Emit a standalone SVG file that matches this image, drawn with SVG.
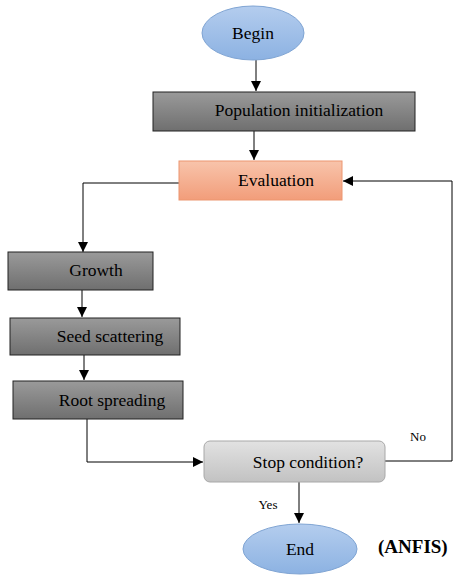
<svg xmlns="http://www.w3.org/2000/svg" width="455" height="575" viewBox="0 0 455 575" font-family="'Liberation Serif', 'Times New Roman', serif">
<defs>
<linearGradient id="gGray" x1="0" y1="0" x2="0" y2="1"><stop offset="0" stop-color="#9a9a9a"/><stop offset="1" stop-color="#6f6f6f"/></linearGradient>
<linearGradient id="gOrange" x1="0" y1="0" x2="0" y2="1"><stop offset="0" stop-color="#f8c4ab"/><stop offset="1" stop-color="#f29d7a"/></linearGradient>
<linearGradient id="gBlue" x1="0" y1="0" x2="0" y2="1"><stop offset="0" stop-color="#b4cdee"/><stop offset="1" stop-color="#8cb2e2"/></linearGradient>
<linearGradient id="gLight" x1="0" y1="0" x2="0" y2="1"><stop offset="0" stop-color="#e2e2e2"/><stop offset="1" stop-color="#c2c2c2"/></linearGradient>
<marker id="arr" viewBox="0 0 10 10" refX="10" refY="5" markerWidth="10" markerHeight="10" markerUnits="userSpaceOnUse" orient="auto"><path d="M0,0 L10,5 L0,10 z" fill="#000"/></marker>
</defs>
<style>
text{font-family:"Liberation Serif","Times New Roman",serif;fill:#000}
.t{font-size:17.5px}
.s{font-size:13px}
.box{fill:url(#gGray);stroke:#222;stroke-width:1}
.con{fill:none;stroke:#000;stroke-width:1}
</style>
<g id="connectors">
<path class="con" d="M256,60 V91" marker-end="url(#arr)"/>
<path class="con" d="M254,131 V160" marker-end="url(#arr)"/>
<path class="con" d="M179,183 H83 V252" marker-end="url(#arr)"/>
<path class="con" d="M82,290 V317" marker-end="url(#arr)"/>
<path class="con" d="M84,355 V380" marker-end="url(#arr)"/>
<path class="con" d="M87,419 V462 H203" marker-end="url(#arr)"/>
<path class="con" d="M385,461 H452 V181 H343" marker-end="url(#arr)"/>
<path class="con" d="M299,482 V523" marker-end="url(#arr)"/>
<text class="s" x="418" y="441" text-anchor="middle">No</text>
<text class="s" x="268" y="509" text-anchor="middle">Yes</text>
</g>
<g id="begin">
<ellipse cx="253" cy="33" rx="51" ry="27" fill="url(#gBlue)" stroke="#7fa4d3"/>
<text class="t" x="253" y="39" text-anchor="middle">Begin</text>
</g>
<g id="population">
<rect class="box" x="153" y="92" width="262" height="39"/>
<text class="t" x="299" y="116" text-anchor="middle">Population initialization</text>
</g>
<g id="evaluation">
<rect x="179" y="161" width="163" height="39" fill="url(#gOrange)" stroke="#ec9670"/>
<text class="t" x="276" y="186" text-anchor="middle">Evaluation</text>
</g>
<g id="growth">
<rect class="box" x="8" y="252" width="145" height="38"/>
<text class="t" x="96" y="276" text-anchor="middle">Growth</text>
</g>
<g id="seed">
<rect class="box" x="10" y="318" width="170" height="37"/>
<text class="t" x="110" y="342" text-anchor="middle">Seed scattering</text>
</g>
<g id="root">
<rect class="box" x="13" y="381" width="170" height="38"/>
<text class="t" x="112" y="406" text-anchor="middle">Root spreading</text>
</g>
<g id="stop">
<rect x="204" y="441" width="181" height="41" rx="6" fill="url(#gLight)" stroke="#a8a8a8"/>
<text class="t" x="308" y="468" text-anchor="middle">Stop condition?</text>
</g>
<g id="end">
<ellipse cx="300" cy="549" rx="57" ry="25" fill="url(#gBlue)" stroke="#7fa4d3"/>
<text class="t" x="300" y="555" text-anchor="middle">End</text>
</g>
<text x="378" y="553" style="font-size:19px;font-weight:bold">(ANFIS)</text>
</svg>
